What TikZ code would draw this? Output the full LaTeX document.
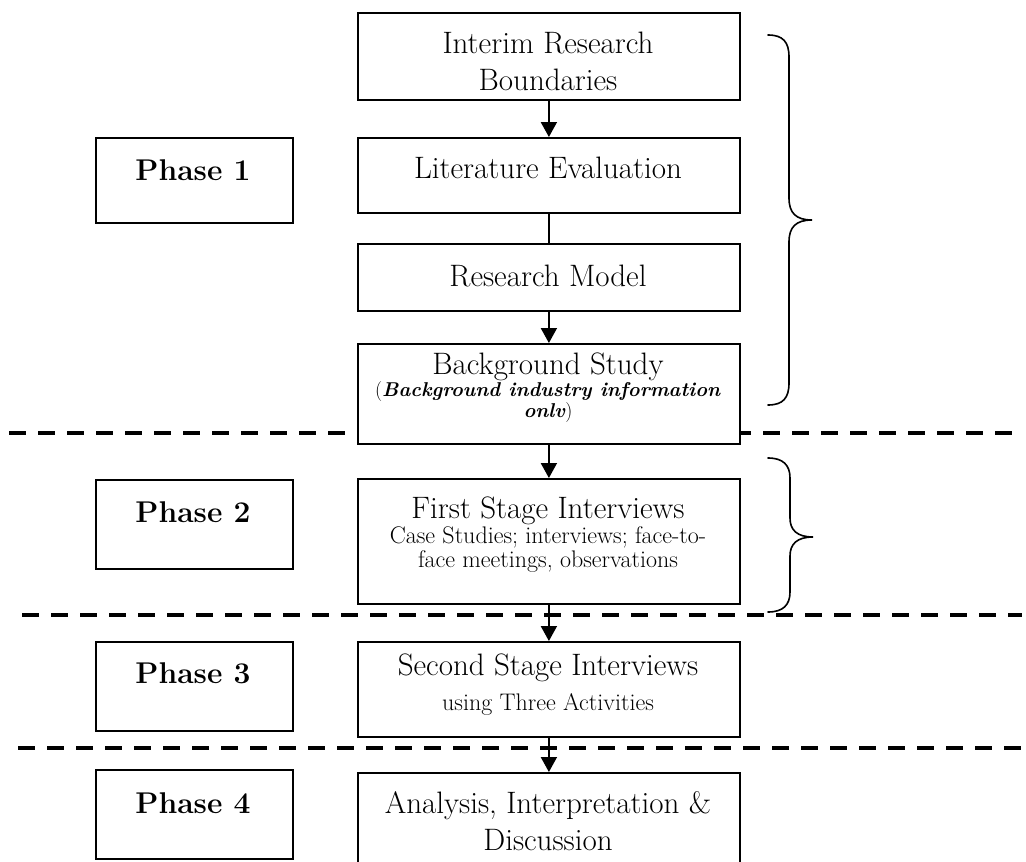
\documentclass[tikz,border=0pt]{standalone}
\usetikzlibrary{arrows.meta}
\begin{document}
\begin{tikzpicture}[x=1pt,y=-1pt,
  box/.style={draw, line width=1.8pt, fill=white, inner sep=0pt, anchor=north west},
  stagebox/.style={box, minimum width=382pt},
  phasebox/.style={box, minimum width=197pt},
  big/.style={font=\fontsize{31}{37}\selectfont, align=center, inner sep=0pt},
  small/.style={font=\fontsize{24}{24}\selectfont, align=center, inner sep=0pt},
  note/.style={font=\fontsize{20}{19}\selectfont, align=center, inner sep=0pt},
  phasetxt/.style={font=\fontsize{30}{34}\selectfont\bfseries, inner sep=0pt},
  flow/.style={line width=2pt, -{Triangle[length=15pt,width=16pt]}},
  link/.style={line width=2pt},
  divider/.style={line width=4pt, dash pattern=on 17pt off 12pt},
  brace/.style={line width=1.6pt, line cap=round}]
\useasboundingbox (0,0) rectangle (1026,862);
\clip (0,0) rectangle (1026,862);

% phase dividers
\draw[divider] (9,433) -- (1022,433);
\draw[divider] (22,615) -- (1022,615);
\draw[divider] (18,748) -- (1022,748);

% stage boxes
\node[stagebox, minimum height=87pt]  (irb) at (357,12)  {};
\node[stagebox, minimum height=75pt]  (lit) at (357,137) {};
\node[stagebox, minimum height=67pt]  (rm)  at (357,243) {};
\node[stagebox, minimum height=100pt] (bs)  at (357,343) {};
\node[stagebox, minimum height=125pt] (fsi) at (357,478) {};
\node[stagebox, minimum height=95pt]  (ssi) at (357,641) {};
\node[stagebox, minimum height=110pt] (aid) at (357,772) {};

% stage texts
\node[big] (irb-t) at (548,61) {Interim Research\\Boundaries};
\node[big] (lit-t) at (548,168) {Literature Evaluation};
\node[big] (rm-t)  at (548,276) {Research Model};
\node[big] (bs-t)  at (548,367) {Background Study};
\node[note] (bs-n) at (548,402) {(\textbf{\textit{Background industry information}}\\\textbf{\textit{onlv}})};
\node[big] (fsi-t) at (548,511) {First Stage Interviews};
\node[small] (fsi-n) at (548,550) {Case Studies; interviews; face-to-\\face meetings, observations};
\node[big] (ssi-t) at (548,668) {Second Stage Interviews};
\node[small] (ssi-n) at (548,704) {using Three Activities};
\node[big] (aid-t) at (548,821) {Analysis, Interpretation \&\\Discussion};

% phase boxes
\node[phasebox, minimum height=85pt] (p1) at (95,137) {};
\node[phasebox, minimum height=89pt] (p2) at (95,479) {};
\node[phasebox, minimum height=89pt] (p3) at (95,641) {};
\node[phasebox, minimum height=89pt] (p4) at (95,769) {};
\node[phasetxt] (p1-t) at (193,170) {Phase 1};
\node[phasetxt] (p2-t) at (193,512) {Phase 2};
\node[phasetxt] (p3-t) at (193,673) {Phase 3};
\node[phasetxt] (p4-t) at (193,803) {Phase 4};

% connectors
\draw[flow] (irb) -- (lit);
\draw[link] (lit) -- (rm);
\draw[flow] (rm) -- (bs);
\draw[flow] (bs) -- (fsi);
\draw[flow] (fsi) -- (ssi);
\draw[flow] (ssi) -- (aid);

% braces
\draw[brace] (768,35) .. controls (783,35) and (789,42) .. (789,57)
  -- (789,198) .. controls (789,213) and (796,220) .. (812,220)
  .. controls (796,220) and (789,227) .. (789,242)
  -- (789,383) .. controls (789,398) and (783,405) .. (768,405);
\draw[brace] (768,458) .. controls (783,458) and (790,465) .. (790,478)
  -- (790,518) .. controls (790,530) and (797,537) .. (813,537)
  .. controls (797,537) and (790,544) .. (790,556)
  -- (790,592) .. controls (790,605) and (783,612) .. (768,612);
\end{tikzpicture}
\end{document}
